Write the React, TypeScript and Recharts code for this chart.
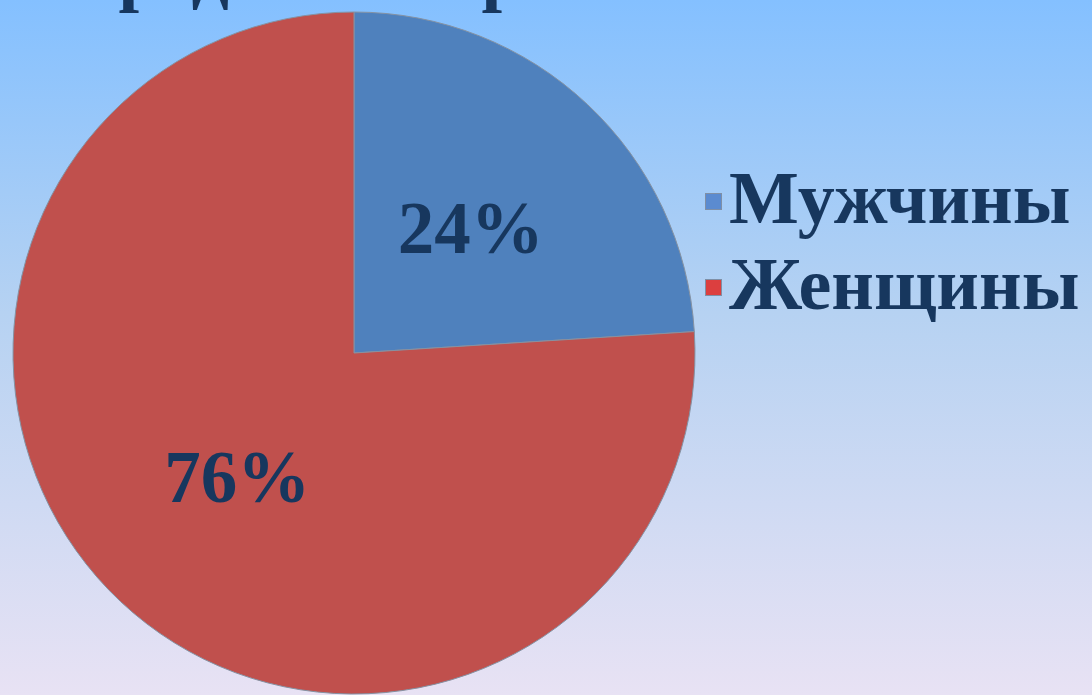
import { PieChart, Pie, Cell, Legend } from 'recharts'

const categories = ['Мужчины', 'Женщины']
const shares = [24, 76]
const sliceColors = ['#4f81bd', '#c0504d']
const markerColors = ['#5b8bd0', '#dc3f3f']
const titleText = 'Средний возраст'

const data = categories.map((name, i) => ({ name, value: shares[i] }))

const RAD = Math.PI / 180
const textColor = '#17375e'
const serif = '"Liberation Serif", "Times New Roman", serif'

function renderLabel(props: any) {
  const { cx, cy, midAngle, outerRadius, percent } = props
  const r = outerRadius * 0.5
  const x = cx + r * Math.cos(-midAngle * RAD)
  const y = cy + r * Math.sin(-midAngle * RAD)
  return (
    <text
      x={x}
      y={y}
      textAnchor="middle"
      dominantBaseline="central"
      fill={textColor}
      fontFamily={serif}
      fontWeight="bold"
      fontSize={73}
    >
      {`${Math.round(percent * 100)}%`}
    </text>
  )
}

// legend follows the category order, not the payload order
function LegendList() {
  return (
    <div>
      {categories.map((name, i) => (
        <div
          key={name}
          style={{
            display: 'flex',
            alignItems: 'center',
            height: 86,
            fontFamily: serif,
            fontWeight: 'bold',
            fontSize: 74,
            color: textColor,
            whiteSpace: 'nowrap',
          }}
        >
          <span
            style={{
              display: 'inline-block',
              width: 15,
              height: 15,
              background: markerColors[i],
              border: '1px solid #7f8fa6',
              marginRight: 7,
              marginTop: 6,
            }}
          />
          {name}
        </div>
      ))}
    </div>
  )
}

export default function App() {
  return (
    <div
      style={{
        position: 'fixed',
        top: 0,
        left: 0,
        width: 1092,
        height: 695,
        overflow: 'hidden',
        background: 'linear-gradient(to bottom, #84c0ff 0%, #b6d2f2 45%, #e8e2f4 100%)',
      }}
    >
      <PieChart width={1092} height={695} margin={{ top: 0, right: 0, bottom: 0, left: 0 }}>
        <Pie
          data={data}
          dataKey="value"
          nameKey="name"
          cx={354}
          cy={353}
          outerRadius={341}
          startAngle={90}
          endAngle={-270}
          stroke="#8592a3"
          strokeWidth={1}
          label={renderLabel}
          labelLine={false}
          isAnimationActive={false}
        >
          {data.map((d, i) => (
            <Cell key={d.name} fill={sliceColors[i]} />
          ))}
        </Pie>
        <Legend
          layout="vertical"
          content={<LegendList />}
          wrapperStyle={{ position: 'absolute', left: 705, top: 155, width: 390 }}
        />
      </PieChart>
      <svg
        width={1092}
        height={695}
        style={{ position: 'absolute', top: 0, left: 0, pointerEvents: 'none' }}
      >
        <text x={65} y={-3} fill={textColor} fontFamily={serif} fontWeight="bold" fontSize={74}>
          {titleText}
        </text>
      </svg>
    </div>
  )
}
